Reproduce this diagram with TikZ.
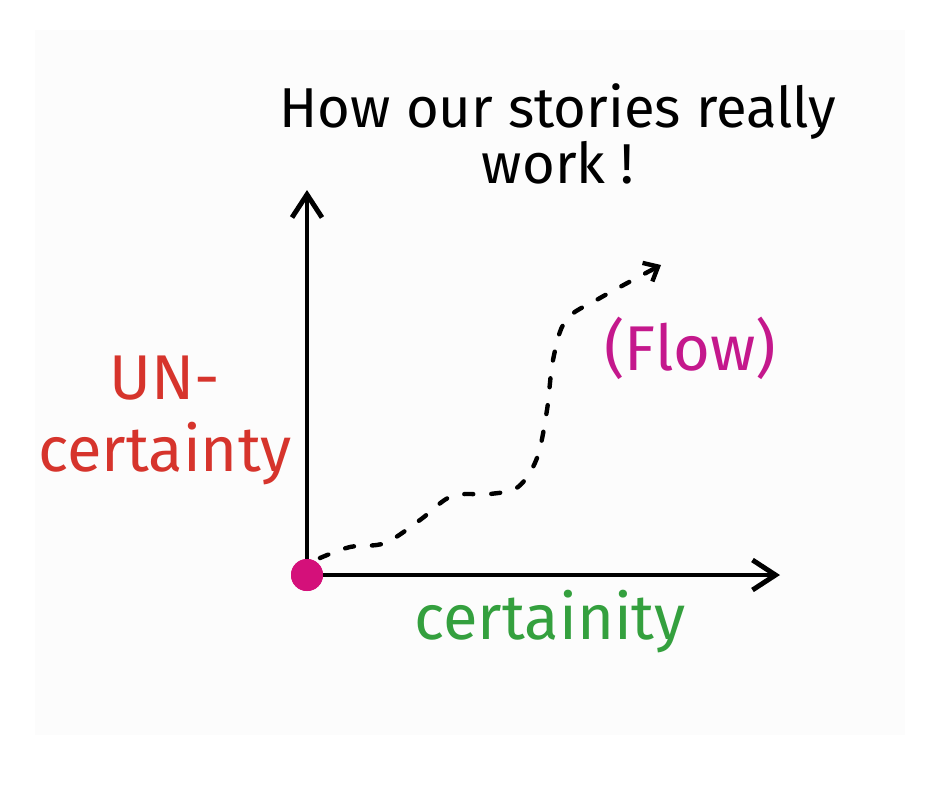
\documentclass[tikz,border=0pt]{standalone}
\usepackage{fontspec}
\setmainfont{Fira Sans}
\usetikzlibrary{arrows.meta}
\definecolor{bgpanel}{RGB}{252,252,252}
\definecolor{redtxt}{RGB}{214,52,44}
\definecolor{greentxt}{RGB}{52,160,62}
\definecolor{magtxt}{RGB}{196,24,140}
\definecolor{dotcol}{RGB}{212,16,122}
\tikzset{
  axisline/.style={line width=2.8pt, -{Straight Barb[length=0.46cm, width=0.6cm, line width=2.8pt]}},
  flowline/.style={line width=2.5pt, line cap=round, dash pattern=on 0.18cm off 0.36cm,
    -{Straight Barb[length=0.24cm, width=0.42cm, line width=2.5pt]}},
  bigtxt/.style={font=\fontsize{36}{41}\selectfont, inner sep=0pt, align=center},
  titletxt/.style={font=\fontsize{32}{30}\selectfont, inner sep=0pt, align=center},
}
\begin{document}
\begin{tikzpicture}[x=0.02cm, y=-0.02cm]
\useasboundingbox (0,0) rectangle (940,788);
\fill[white] (0,0) rectangle (940,788);
\fill[bgpanel] (35,30) rectangle (905,735);
% title
\node[titletxt] (title) at (558,134) {How our stories really\\work !};
% axes
\coordinate (ytop) at (307,190);
\coordinate (xend) at (780,575);
\node[circle, fill=dotcol, minimum size=0.64cm, inner sep=0pt] (o) at (307,575) {};
\draw[axisline] (o.center) -- (ytop);
\draw[axisline] (o.center) -- (xend);
\fill[dotcol] (o) circle (0.32cm);
% labels
\node[bigtxt, text=redtxt] (unc) at (165,420) {UN-\\certainty};
\node[bigtxt, text=greentxt] (cer) at (550,622) {certainity};
\node[bigtxt, text=magtxt] (flow) at (690,348) {(Flow)};
% flow curve
\coordinate (fstart) at (320,558);
\coordinate (fend) at (661,265);
\draw[flowline] plot[smooth, tension=0.55] coordinates {(320,558) (350,547) (385,543) (420,520) (452,496) (490,494) (518,487) (537,458) (547,410) (553,360) (566,320) (600,298) (661,265)};
\end{tikzpicture}
\end{document}
